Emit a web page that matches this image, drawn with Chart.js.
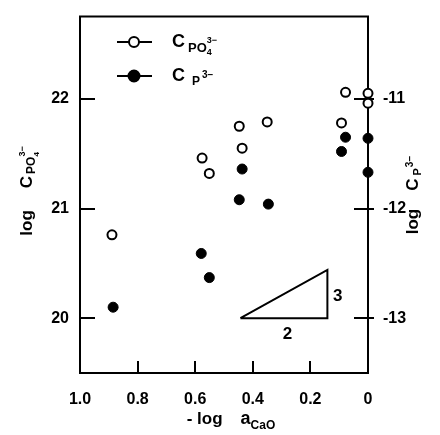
<!DOCTYPE html>
<html>
<head>
<meta charset="utf-8">
<script src="https://cdn.jsdelivr.net/npm/chart.js@4.4.1/dist/chart.umd.min.js"></script>
<style>
  html, body { margin: 0; padding: 0; background: #fff; }
  canvas { display: block; }
</style>
</head>
<body>
<canvas id="chart" width="440" height="435"></canvas>
<script>
// log C(PO4 3-) and log C(P 3-) against -log a(CaO), two y axes

const X_TICKS = [1.0, 0.8, 0.6, 0.4, 0.2, 0];
const X_TICK_LABELS = ['1.0', '0.8', '0.6', '0.4', '0.2', '0'];
const LEFT_TICKS = [20, 21, 22];
const RIGHT_TICKS = [-13, -12, -11];

// open circles, left axis
const PO4_X = [0.889, 0.576, 0.551, 0.447, 0.437, 0.350, 0.092, 0.078, 0.0, 0.0];
const PO4_Y = [20.76, 21.46, 21.32, 21.75, 21.55, 21.79, 21.78, 22.06, 22.05, 21.96];

// filled circles, right axis
const P3_X = [0.885, 0.579, 0.551, 0.437, 0.447, 0.346, 0.078, 0.092, 0.0, 0.0];
const P3_Y = [-12.90, -12.41, -12.63, -11.64, -11.92, -11.96, -11.35, -11.48, -11.36, -11.67];

// slope triangle (3 over 2)
const SLOPE_X = [0.443, 0.141, 0.141, 0.443];
const SLOPE_Y = [20.0, 20.0, 20.44, 20.0];
const SLOPE_LABELS = ['2', '3'];
const SLOPE_LABEL_X = [0.28, 0.105];
const SLOPE_LABEL_Y = [19.85, 20.2];

const FONT = "'Liberation Sans', Arial, sans-serif";

const toPoints = (xs, ys) => xs.map((x, i) => ({ x, y: ys[i] }));

// text runs with sub/superscripts; a run with stack:true sits over the previous one
function drawRich(ctx, runs, x, y, angle, align) {
  let cx = 0, prevX = 0;
  const placed = runs.map(r => {
    ctx.font = `bold ${r.size || 16}px ${FONT}`;
    const w = r.gap ? r.gap : ctx.measureText(r.t).width;
    const rx = r.stack ? prevX : cx;
    if (!r.stack) prevX = cx;
    cx = Math.max(cx, rx + w);
    return { ...r, rx };
  });
  const start = align === 'left' ? 0 : -cx / 2;
  ctx.save();
  ctx.translate(x, y);
  ctx.rotate(angle);
  ctx.fillStyle = '#000';
  ctx.textBaseline = 'middle';
  ctx.textAlign = 'left';
  placed.forEach(r => {
    if (r.gap) return;
    ctx.font = `bold ${r.size || 16}px ${FONT}`;
    ctx.fillText(r.t, start + r.rx, r.dy || 0);
  });
  ctx.restore();
}

const frameAndTicks = {
  id: 'frameAndTicks',
  beforeDatasetsDraw(chart) {
    const { ctx, chartArea: a, scales } = chart;
    ctx.save();
    ctx.strokeStyle = '#000';
    ctx.lineWidth = 2;
    ctx.beginPath();
    ctx.moveTo(a.left - 1, a.top); ctx.lineTo(a.right + 1, a.top);
    X_TICKS.forEach(v => {
      if (v === 0 || v === 1) return;
      const px = Math.round(scales.x.getPixelForValue(v));
      ctx.moveTo(px, a.bottom); ctx.lineTo(px, a.bottom - 12);
    });
    LEFT_TICKS.forEach(v => {
      const py = Math.round(scales.y.getPixelForValue(v));
      ctx.moveTo(a.left, py); ctx.lineTo(a.left + 15, py);
    });
    RIGHT_TICKS.forEach(v => {
      const py = Math.round(scales.y2.getPixelForValue(v));
      ctx.moveTo(a.right - 14, py); ctx.lineTo(a.right + 6, py);
    });
    ctx.stroke();
    ctx.restore();
  },
  afterDraw(chart) {
    const { ctx, scales } = chart;

    // slope labels
    ctx.save();
    ctx.fillStyle = '#000';
    ctx.font = `bold 17px ${FONT}`;
    ctx.textAlign = 'center';
    ctx.textBaseline = 'middle';
    SLOPE_LABELS.forEach((t, i) => {
      ctx.fillText(t, scales.x.getPixelForValue(SLOPE_LABEL_X[i]), scales.y.getPixelForValue(SLOPE_LABEL_Y[i]));
    });

    // legend
    ctx.strokeStyle = '#000';
    ctx.lineWidth = 2;
    [[42, false], [76, true]].forEach(([ly, filled]) => {
      ctx.beginPath(); ctx.moveTo(117, ly); ctx.lineTo(152, ly); ctx.stroke();
      ctx.beginPath(); ctx.arc(134, ly, filled ? 5.5 : 5, 0, Math.PI * 2);
      ctx.fillStyle = filled ? '#000' : '#fff';
      ctx.fill(); ctx.stroke();
    });
    ctx.restore();
    drawRich(ctx, [
      { t: 'C', size: 18 }, { gap: 3 }, { t: 'PO', size: 13, dy: 6 },
      { t: '4', size: 9, dy: 11 }, { t: '3−', size: 9, dy: -1, stack: true }
    ], 172, 42, 0, 'left');
    drawRich(ctx, [
      { t: 'C', size: 18 }, { gap: 7 }, { t: 'P', size: 12, dy: 6 }, { gap: 2 }, { t: '3−', size: 10, dy: -1 }
    ], 172, 76, 0, 'left');

    // axis titles
    drawRich(ctx, [
      { t: 'log', size: 17 }, { gap: 22 }, { t: 'C', size: 17 }, { gap: 2 },
      { t: 'PO', size: 12, dy: 5 }, { t: '4', size: 8, dy: 10 }, { t: '3−', size: 9, dy: -4, stack: true }
    ], 27, 191, -Math.PI / 2, 'center');
    drawRich(ctx, [
      { t: 'log', size: 17 }, { gap: 18 }, { t: 'C', size: 17 }, { gap: 3 },
      { t: 'P', size: 11, dy: 5 }, { gap: 1 }, { t: '3−', size: 10, dy: -3 }
    ], 413, 195, -Math.PI / 2, 'center');
    drawRich(ctx, [
      { t: '- log', size: 17 }, { gap: 18 }, { t: 'a', size: 18 }, { t: 'CaO', size: 12, dy: 7 }
    ], 231, 419, 0, 'center');
  }
};

const tickFont = { family: FONT, size: 16, weight: 'bold' };

new Chart(document.getElementById('chart'), {
  type: 'scatter',
  data: {
    datasets: [
      {
        data: toPoints(PO4_X, PO4_Y), yAxisID: 'y',
        pointRadius: 4.5, pointBorderWidth: 2, pointBackgroundColor: '#fff', pointBorderColor: '#000', clip: false,
      },
      {
        data: toPoints(P3_X, P3_Y), yAxisID: 'y2',
        pointRadius: 5, pointBorderWidth: 1, pointBackgroundColor: '#000', pointBorderColor: '#000', clip: false,
      },
      {
        data: toPoints(SLOPE_X, SLOPE_Y), yAxisID: 'y', showLine: true,
        borderColor: '#000', borderWidth: 2, pointRadius: 0, fill: false, tension: 0,
      },
    ],
  },
  options: {
    responsive: false,
    animation: false,
    devicePixelRatio: 1,
    layout: { padding: { top: 10, left: 0, right: 0, bottom: 0 } },
    plugins: { legend: { display: false }, tooltip: { enabled: false } },
    scales: {
      x: {
        type: 'linear', position: 'bottom', min: 0, max: 1, reverse: true,
        afterBuildTicks: s => { s.ticks = X_TICKS.map(value => ({ value })); },
        afterFit: s => { s.height = 62; },
        grid: { display: false },
        border: { display: true, color: '#000', width: 2 },
        ticks: { color: '#000', font: tickFont, padding: 9, maxRotation: 0, callback: v => X_TICK_LABELS[X_TICKS.indexOf(v)] },
      },
      y: {
        type: 'linear', position: 'left', min: 19.5, max: 22.75,
        afterBuildTicks: s => { s.ticks = LEFT_TICKS.map(value => ({ value })); },
        afterFit: s => { s.width = 80; },
        grid: { display: false },
        border: { display: true, color: '#000', width: 2 },
        ticks: { color: '#000', font: tickFont, padding: 3, callback: v => String(v) },
      },
      y2: {
        type: 'linear', position: 'right', min: -13.5, max: -10.25,
        afterBuildTicks: s => { s.ticks = RIGHT_TICKS.map(value => ({ value })); },
        afterFit: s => { s.width = 72; },
        grid: { display: false },
        border: { display: true, color: '#000', width: 2 },
        ticks: { color: '#000', font: tickFont, padding: 7, callback: v => String(v) },
      },
    },
  },
  plugins: [frameAndTicks],
});
</script>
</body>
</html>
